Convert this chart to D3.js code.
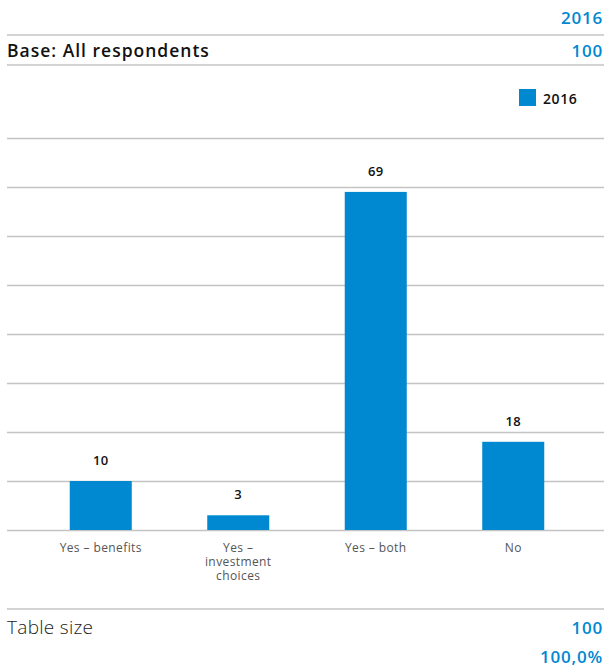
<!DOCTYPE html>
<html>
<head>
<meta charset="utf-8">
<script src="https://cdn.jsdelivr.net/npm/d3@7"></script>
<style>
  html, body { margin: 0; padding: 0; background: #fff; }
  svg { display: block; font-family: "Open Sans", "Noto Sans", sans-serif; }
</style>
</head>
<body>
<svg id="chart" width="606" height="668"></svg>
<script>
// Survey answers, 2016 wave
const categories = [["Yes \u2013 benefits"], ["Yes \u2013", "investment", "choices"], ["Yes \u2013 both"], ["No"]];
const values2016 = [10, 3, 69, 18];
const gridTicks = [0, 10, 20, 30, 40, 50, 60, 70, 80];
const seriesName = "2016";
const baseLabel = "Base: All respondents";
const baseValue = "100";
const tableSizeValue = "100";
const tableSizePct = "100,0%";

const blue = "#0088d1";
const gridColor = "#c4c4c4";
const svg = d3.select("#chart");
const left = 7, right = 604;

// Header rows
svg.append("text").attr("x", 603).attr("y", 24).attr("text-anchor", "end")
  .attr("fill", blue).attr("font-size", 17).attr("font-weight", 600)
  .attr("letter-spacing", 0.8).text(seriesName);
svg.append("line").attr("x1", left).attr("x2", right).attr("y1", 35).attr("y2", 35)
  .attr("stroke", gridColor).attr("stroke-width", 1.5);
svg.append("text").attr("x", 7).attr("y", 56.5)
  .attr("fill", "#111").attr("font-size", 17.5).attr("font-weight", 600)
  .attr("letter-spacing", 1).text(baseLabel);
svg.append("text").attr("x", 603).attr("y", 56.5).attr("text-anchor", "end")
  .attr("fill", blue).attr("font-size", 17).attr("font-weight", 600)
  .attr("letter-spacing", 0.8).text(baseValue);
svg.append("line").attr("x1", left).attr("x2", right).attr("y1", 65).attr("y2", 65)
  .attr("stroke", gridColor).attr("stroke-width", 1.5);

// Legend
svg.append("rect").attr("x", 519).attr("y", 89).attr("width", 17).attr("height", 17).attr("fill", blue);
svg.append("text").attr("x", 543).attr("y", 104).attr("fill", "#111")
  .attr("font-size", 14).attr("font-weight", 600).attr("letter-spacing", 0.6).text(seriesName);

// Scales
const x = d3.scaleBand().domain(d3.range(categories.length)).range([32, 582])
  .paddingInner(0.549).paddingOuter(0.2745);
const y = d3.scaleLinear().domain([0, 80]).range([530, 138]);

// Gridlines
svg.append("g").attr("transform", `translate(${left},0)`)
  .call(d3.axisLeft(y).tickValues(gridTicks).tickSize(-(right - left)).tickFormat(""))
  .call(g => g.select(".domain").remove())
  .call(g => g.selectAll(".tick line").attr("stroke", gridColor).attr("stroke-width", 1.5));

// Bars
svg.append("g").selectAll("rect").data(values2016).join("rect")
  .attr("x", (d, i) => x(i)).attr("width", x.bandwidth())
  .attr("y", d => y(d)).attr("height", d => y(0) - y(d))
  .attr("fill", blue);

// Value labels
svg.append("g").selectAll("text").data(values2016).join("text")
  .attr("x", (d, i) => x(i) + x.bandwidth() / 2).attr("y", d => y(d) - 16)
  .attr("text-anchor", "middle").attr("fill", "#111")
  .attr("font-size", 13).attr("font-weight", 600).attr("letter-spacing", 0.4).text(d => d);

// Category labels
const cat = svg.append("g").selectAll("text").data(categories).join("text")
  .attr("x", (d, i) => x(i) + x.bandwidth() / 2).attr("y", 552)
  .attr("text-anchor", "middle").attr("fill", "#555").attr("font-size", 12)
  .attr("letter-spacing", 0.4);
cat.selectAll("tspan").data(d => d).join("tspan")
  .attr("x", function() { return this.parentNode.getAttribute("x"); })
  .attr("dy", (d, i) => i === 0 ? 0 : 14).text(d => d);

// Footer rows
svg.append("line").attr("x1", left).attr("x2", right).attr("y1", 609).attr("y2", 609)
  .attr("stroke", gridColor).attr("stroke-width", 1.5);
svg.append("text").attr("x", 7).attr("y", 633.5)
  .attr("fill", "#222").attr("font-size", 19).attr("font-weight", 300)
  .attr("letter-spacing", 0.3).text("Table size");
svg.append("text").attr("x", 603).attr("y", 633.5).attr("text-anchor", "end")
  .attr("fill", blue).attr("font-size", 17).attr("font-weight", 600)
  .attr("letter-spacing", 0.8).text(tableSizeValue);
svg.append("text").attr("x", 603).attr("y", 663).attr("text-anchor", "end")
  .attr("fill", blue).attr("font-size", 17).attr("font-weight", 600)
  .attr("letter-spacing", 0.8).text(tableSizePct);
</script>
</body>
</html>
